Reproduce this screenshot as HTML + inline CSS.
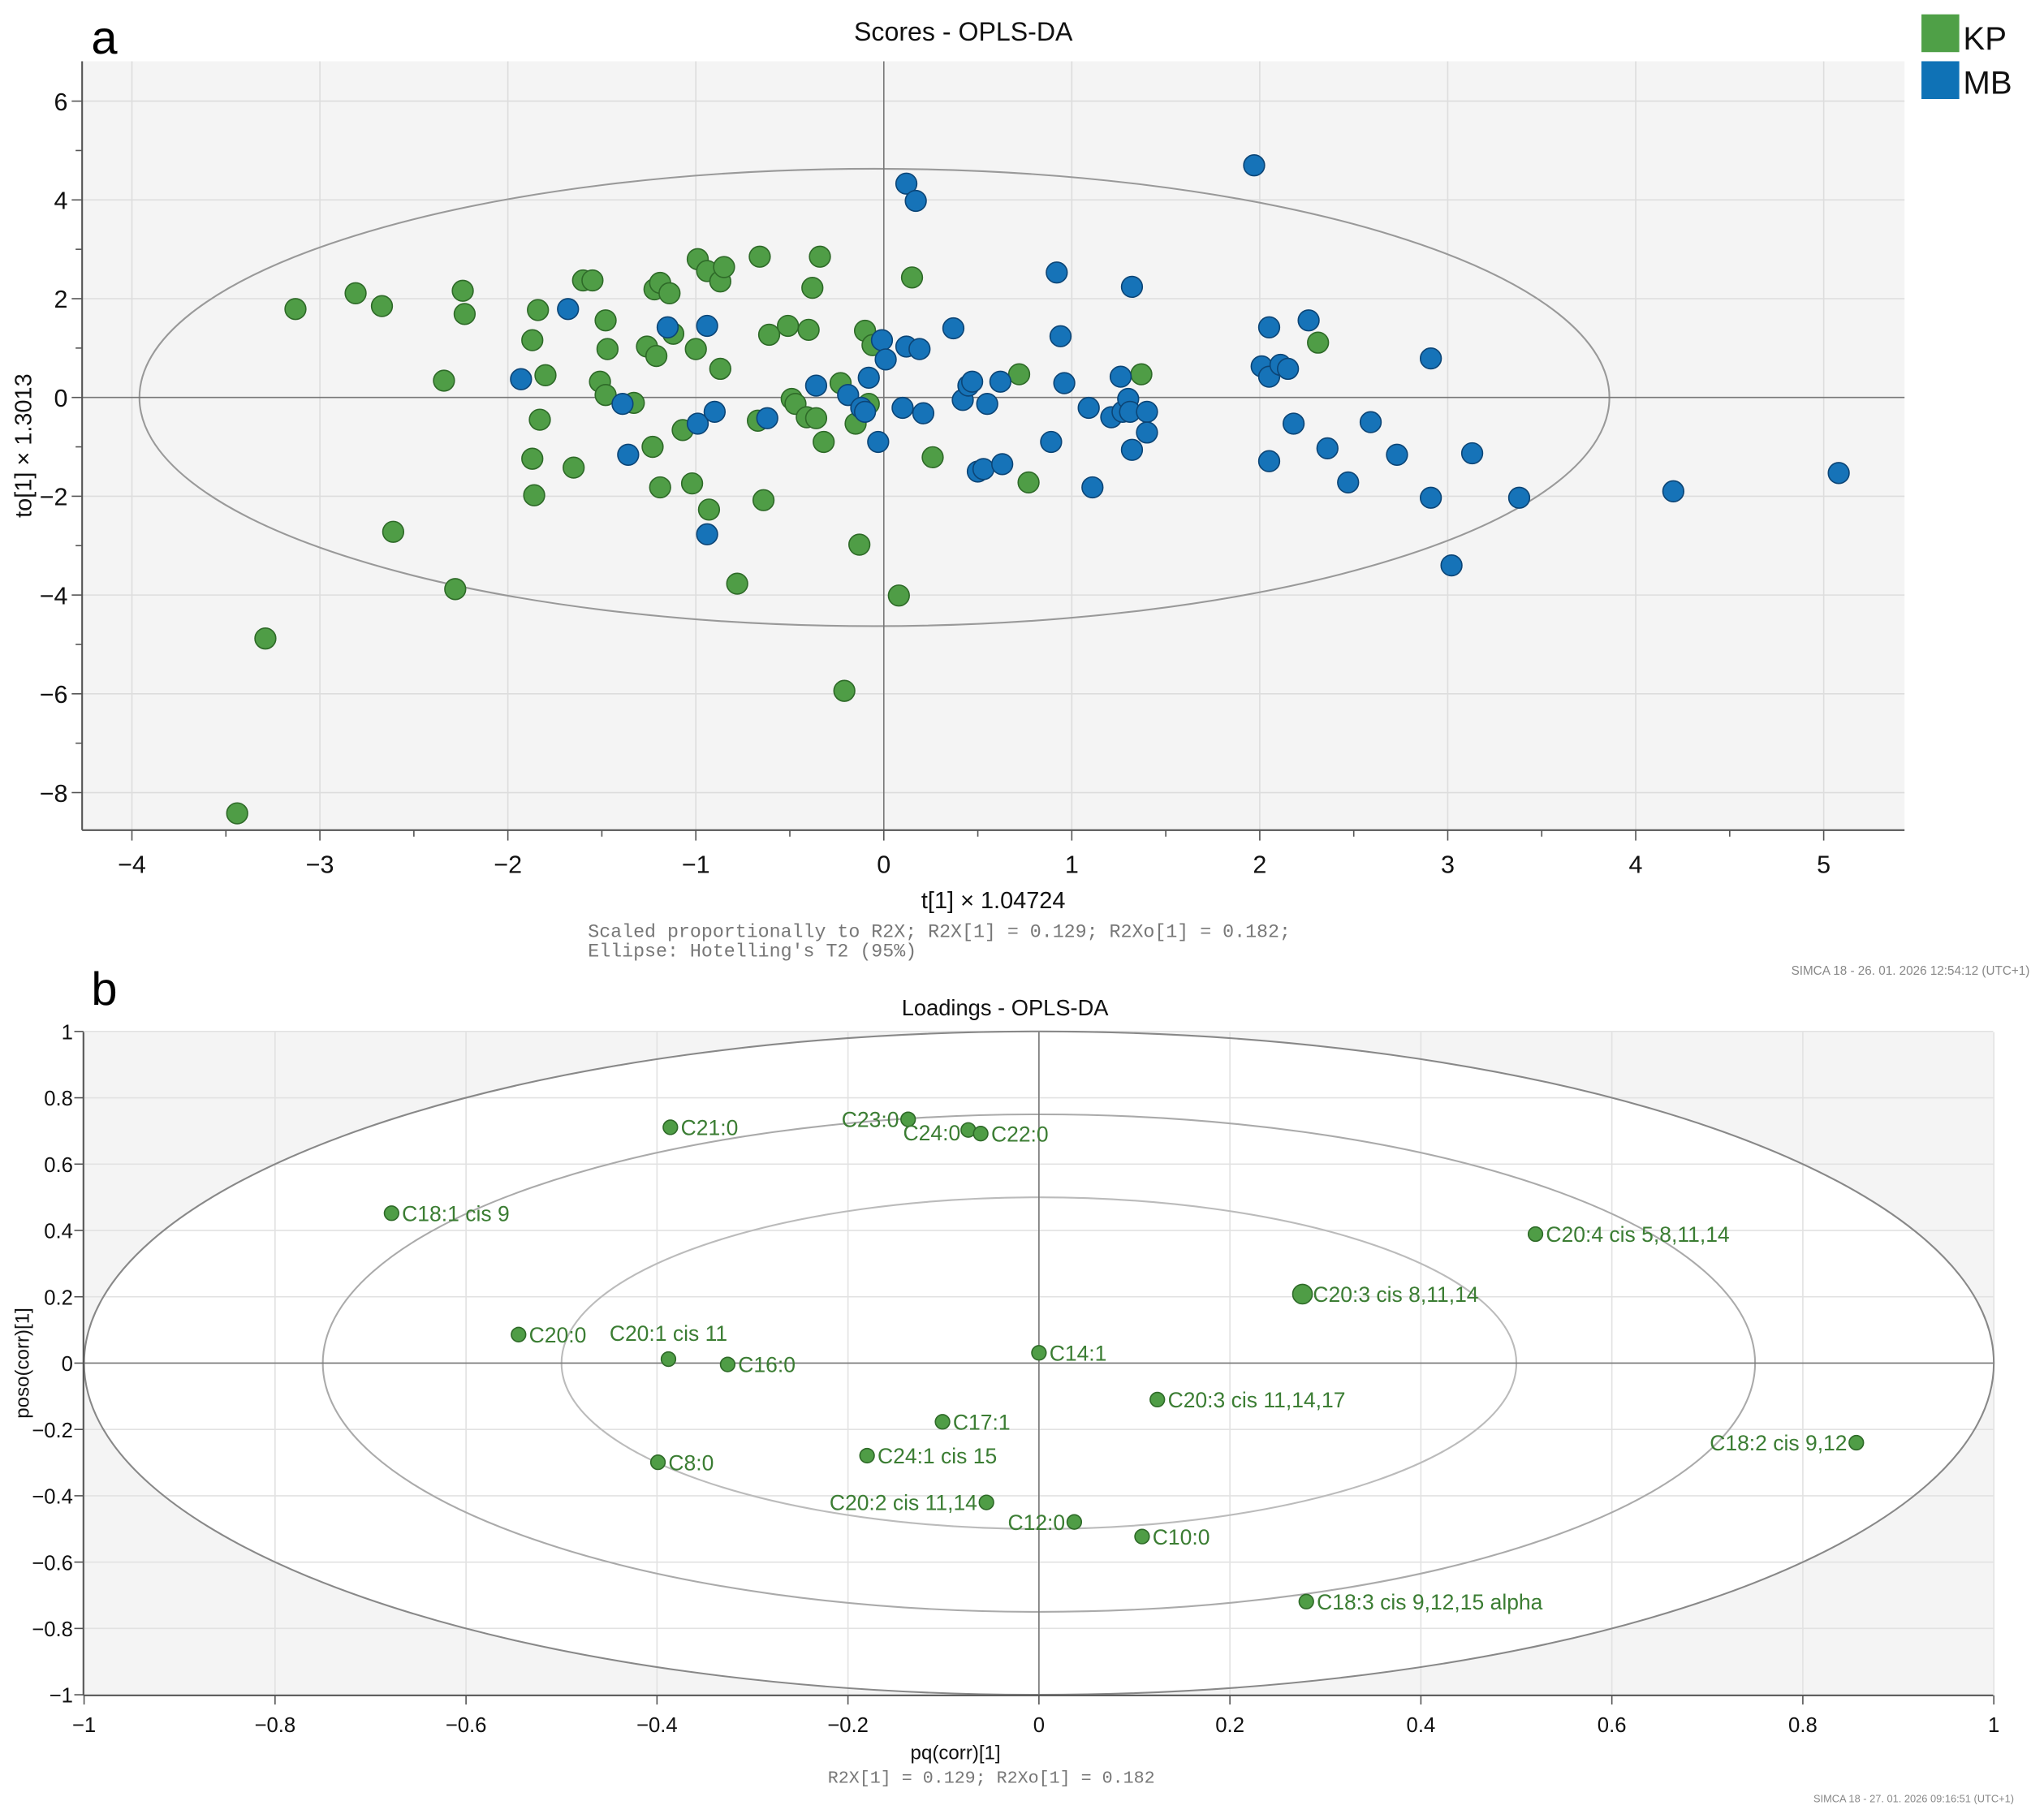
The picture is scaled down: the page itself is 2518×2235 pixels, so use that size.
<!DOCTYPE html>
<html><head><meta charset="utf-8"><style>
html,body{margin:0;padding:0;background:#fff;}
svg{display:block;font-family:"Liberation Sans",sans-serif;}
</style></head><body>
<svg id="fig" width="2518" height="2235" viewBox="0 0 1568 1392" preserveAspectRatio="none" xmlns="http://www.w3.org/2000/svg">
<g id="pa"></g>
<g id="pb"></g>
</svg>
<script>
const kpX=[-3.44,-3.29,-3.13,-2.81,-2.67,-2.61,-2.34,-2.28,-2.24,-2.23,-1.87,-1.87,-1.86,-1.84,-1.83,-1.80,-1.65,-1.60,-1.55,-1.51,-1.48,-1.48,-1.47,-1.33,-1.26,-1.23,-1.22,-1.21,-1.19,-1.19,-1.14,-1.12,-1.07,-1.02,-1.00,-0.99,-0.94,-0.93,-0.87,-0.87,-0.85,-0.78,-0.67,-0.66,-0.64,-0.61,-0.51,-0.49,-0.47,-0.41,-0.40,-0.38,-0.36,-0.34,-0.32,-0.23,-0.21,-0.15,-0.13,-0.10,-0.08,-0.06,0.08,0.15,0.26,0.72,0.77,1.37,2.31];
const kpY=[-8.42,-4.88,1.79,2.11,1.85,-2.72,0.34,-3.88,2.16,1.69,-1.24,1.16,-1.98,1.77,-0.45,0.45,-1.42,2.37,2.37,0.32,0.05,1.56,0.98,-0.11,1.03,-1.00,2.19,0.84,-1.82,2.32,2.11,1.29,-0.66,-1.74,0.98,2.80,2.56,-2.27,2.35,0.58,2.64,-3.77,-0.47,2.85,-2.08,1.27,1.45,-0.03,-0.13,-0.40,1.37,2.22,-0.42,2.85,-0.90,0.29,-5.94,-0.53,-2.98,1.35,-0.13,1.06,-4.01,2.43,-1.21,0.47,-1.72,0.47,1.11];
const mbX=[-1.93,-1.68,-1.39,-1.36,-1.15,-0.99,-0.94,-0.94,-0.90,-0.62,-0.36,-0.19,-0.12,-0.10,-0.08,-0.03,-0.01,0.01,0.10,0.12,0.12,0.17,0.19,0.21,0.37,0.42,0.45,0.47,0.50,0.53,0.55,0.62,0.63,0.89,0.92,0.94,0.96,1.09,1.11,1.26,1.21,1.27,1.30,1.31,1.32,1.32,1.40,1.40,1.97,2.01,2.05,2.05,2.05,2.11,2.15,2.18,2.26,2.36,2.47,2.59,2.73,2.91,2.91,3.02,3.13,3.38,4.20,5.08];
const mbY=[0.37,1.79,-0.13,-1.16,1.42,-0.53,1.45,-2.77,-0.29,-0.42,0.24,0.05,-0.21,-0.29,0.40,-0.90,1.16,0.77,-0.21,4.33,1.03,3.98,0.98,-0.32,1.40,-0.05,0.24,0.32,-1.50,-1.45,-0.13,0.32,-1.35,-0.90,2.53,1.24,0.29,-0.21,-1.82,0.42,-0.40,-0.29,-0.03,-0.29,2.24,-1.06,-0.29,-0.71,4.70,0.63,0.42,1.42,-1.29,0.66,0.58,-0.53,1.56,-1.03,-1.72,-0.50,-1.16,0.79,-2.03,-3.40,-1.13,-2.03,-1.90,-1.53];
const aXTicks=[-4,-3,-2,-1,0,1,2,3,4,5];
const aYTicks=[-8,-6,-4,-2,0,2,4,6];
const ldNames=["C21:0","C23:0","C24:0","C22:0","C18:1 cis 9","C20:4 cis 5,8,11,14","C20:3 cis 8,11,14","C20:0","C20:1 cis 11","C16:0","C14:1","C20:3 cis 11,14,17","C17:1","C24:1 cis 15","C8:0","C18:2 cis 9,12","C20:2 cis 11,14","C12:0","C10:0","C18:3 cis 9,12,15 alpha"];
const ldX=[-0.386,-0.137,-0.074,-0.061,-0.678,0.52,0.276,-0.545,-0.388,-0.326,0,0.124,-0.101,-0.18,-0.399,0.856,-0.055,0.037,0.108,0.28];
const ldY=[0.711,0.735,0.703,0.692,0.452,0.389,0.208,0.086,0.012,-0.004,0.031,-0.11,-0.177,-0.279,-0.299,-0.24,-0.42,-0.479,-0.523,-0.719];
const bTicks=[-1,-0.8,-0.6,-0.4,-0.2,0,0.2,0.4,0.6,0.8,1];

const NS="http://www.w3.org/2000/svg";
function mk(p,t,a,txt){const e=document.createElementNS(NS,t);for(const k in a)e.setAttribute(k,a[k]);if(txt!==undefined)e.textContent=txt;p.appendChild(e);return e;}
function fmt(v){const s=(Math.round(v*10)/10).toString();return s.replace('-','\u2212');}

// Panel A
const pa=document.getElementById('pa');
const ax=v=>678+v*144.2, ay=v=>305-v*37.9;
let r=mk(pa,'rect',{x:63,y:47,width:1398,height:590,fill:'#f4f4f4'});

for(let v=-4;v<=5;v++){let l=mk(pa,'line',{x1:ax(v),x2:ax(v),y1:47,y2:637,stroke:'#dddddd','stroke-width':1});}
for(let v=-8;v<=6;v+=2){let l=mk(pa,'line',{x1:63,x2:1461,y1:ay(v),y2:ay(v),stroke:'#dddddd','stroke-width':1});}
let e=mk(pa,'ellipse',{cx:ax(-0.05),cy:ay(0),rx:3.91*144.2,ry:4.63*37.9,fill:'none',stroke:'#999','stroke-width':1.3});

mk(pa,'line',{x1:ax(0),x2:ax(0),y1:47,y2:637,stroke:'#777','stroke-width':1});
mk(pa,'line',{x1:63,x2:1461,y1:ay(0),y2:ay(0),stroke:'#777','stroke-width':1});
mk(pa,'line',{x1:63,x2:1461,y1:637,y2:637,stroke:'#555','stroke-width':1.3});
mk(pa,'line',{x1:63,x2:63,y1:47,y2:637,stroke:'#555','stroke-width':1.3});
aXTicks.forEach(v=>{mk(pa,'line',{x1:ax(v),x2:ax(v),y1:637,y2:645,stroke:'#555'});
 let t=mk(pa,'text',{x:ax(v),y:670,'text-anchor':'middle','font-size':19,fill:'#111'},fmt(v));});
for(let v=-3.5;v<=5;v+=1)mk(pa,'line',{x1:ax(v),x2:ax(v),y1:637,y2:642,stroke:'#555'});
aYTicks.forEach(v=>{mk(pa,'line',{x1:55,x2:63,y1:ay(v),y2:ay(v),stroke:'#555'});
 let t=mk(pa,'text',{x:52,y:ay(v)+7,'text-anchor':'end','font-size':19,fill:'#111'},fmt(v));});
for(let v=-7;v<=5;v+=2)mk(pa,'line',{x1:58,x2:63,y1:ay(v),y2:ay(v),stroke:'#555'});
kpX.forEach((x,i)=>{let c=mk(pa,'circle',{cx:ax(x),cy:ay(kpY[i]),r:8,fill:'#4f9d46',stroke:'#2e6a28','stroke-width':1});
});
mbX.forEach((x,i)=>{let c=mk(pa,'circle',{cx:ax(x),cy:ay(mbY[i]),r:8,fill:'#1673b8',stroke:'#0c4576','stroke-width':1});
});
let t;
t=mk(pa,'text',{x:70,y:41,'font-size':36,fill:'#000'},'a');
t=mk(pa,'text',{x:739,y:31,'text-anchor':'middle','font-size':20,fill:'#111'},'Scores - OPLS-DA');
t=mk(pa,'text',{x:762,y:697,'text-anchor':'middle','font-size':18,fill:'#111'},'t[1] × 1.04724');
t=mk(pa,'text',{x:0,y:0,'text-anchor':'middle','font-size':18,fill:'#111',transform:'translate(24,342) rotate(-90)'},'to[1] × 1.3013');
t=mk(pa,'text',{x:451,y:719,'font-size':14.5,fill:'#777','font-family':'Liberation Mono, monospace'},'Scaled proportionally to R2X; R2X[1] = 0.129; R2Xo[1] = 0.182;');
t=mk(pa,'text',{x:451,y:734,'font-size':14.5,fill:'#777','font-family':'Liberation Mono, monospace'},"Ellipse: Hotelling's T2 (95%)");
t=mk(pa,'text',{x:1557,y:748,'text-anchor':'end','font-size':9.5,fill:'#888'},'SIMCA 18 - 26. 01. 2026 12:54:12 (UTC+1)');
let lg=mk(pa,'g',{});
r=mk(lg,'rect',{x:1474,y:11,width:29,height:29,fill:'#4fa047'});
t=mk(lg,'text',{x:1506,y:38,'font-size':25,fill:'#111'},'KP');
r=mk(lg,'rect',{x:1474,y:47,width:29,height:29,fill:'#0f72b6'});
t=mk(lg,'text',{x:1506,y:72,'font-size':25,fill:'#111'},'MB');

// Panel B
const pb=document.getElementById('pb');
const bx=v=>797+v*732.5, by=v=>1046-v*254.5;
r=mk(pb,'rect',{x:64,y:792,width:1465,height:509,fill:'#f4f4f4'});
mk(pb,'ellipse',{cx:bx(0),cy:by(0),rx:732.5,ry:254.5,fill:'#fff'});
bTicks.forEach(v=>{mk(pb,'line',{x1:bx(v),x2:bx(v),y1:792,y2:1301,stroke:'#e2e2e2'});mk(pb,'line',{x1:64,x2:1529,y1:by(v),y2:by(v),stroke:'#e2e2e2'});});
[[1,'#888'],[0.75,'#aaa'],[0.5,'#bbb']].forEach(([k,c])=>{let el=mk(pb,'ellipse',{cx:bx(0),cy:by(0),rx:732.5*k,ry:254.5*k,fill:'none',stroke:c,'stroke-width':1.3});});
mk(pb,'line',{x1:bx(0),x2:bx(0),y1:792,y2:1301,stroke:'#777'});
mk(pb,'line',{x1:64,x2:1529,y1:by(0),y2:by(0),stroke:'#777'});
mk(pb,'line',{x1:64,x2:1529,y1:1301,y2:1301,stroke:'#555','stroke-width':1.3});
mk(pb,'line',{x1:64,x2:64,y1:792,y2:1301,stroke:'#555','stroke-width':1.3});
bTicks.forEach(v=>{mk(pb,'line',{x1:bx(v),x2:bx(v),y1:1301,y2:1308,stroke:'#555'});
 t=mk(pb,'text',{x:bx(v),y:1329,'text-anchor':'middle','font-size':16,fill:'#111'},fmt(v));
 mk(pb,'line',{x1:57,x2:64,y1:by(v),y2:by(v),stroke:'#555'});
 t=mk(pb,'text',{x:56,y:by(v)+6,'text-anchor':'end','font-size':16,fill:'#111'},fmt(v));});
const leftLab=new Set(["C23:0","C24:0","C18:2 cis 9,12","C20:2 cis 11,14","C12:0"]);
ldX.forEach((x,i)=>{const big=ldNames[i]==="C20:3 cis 8,11,14";
 let c=mk(pb,'circle',{cx:bx(x),cy:by(ldY[i]),r:big?7.5:5.5,fill:'#4f9d46',stroke:'#2e6a28','stroke-width':1});
 
 const L=leftLab.has(ldNames[i]);let dy=6,dx=L?-7:8,anc=L?'end':'start';
 if(ldNames[i]==="C20:1 cis 11"){dy=-14;dx=0;anc='middle';}
 if(ldNames[i]==="C24:0"){dy=8;dx=-6;}
 let lb=mk(pb,'text',{x:bx(x)+dx,y:by(ldY[i])+dy,'text-anchor':anc,'font-size':16.5,fill:'#3b7d33'},ldNames[i]);
 });
t=mk(pb,'text',{x:70,y:771,'font-size':36,fill:'#000'},'b');
t=mk(pb,'text',{x:771,y:779,'text-anchor':'middle','font-size':17,fill:'#111'},'Loadings - OPLS-DA');
t=mk(pb,'text',{x:733,y:1350,'text-anchor':'middle','font-size':15,fill:'#111'},'pq(corr)[1]');
t=mk(pb,'text',{x:0,y:0,'text-anchor':'middle','font-size':15,fill:'#111',transform:'translate(22,1046) rotate(-90)'},'poso(corr)[1]');
t=mk(pb,'text',{x:635,y:1368,'font-size':13.5,fill:'#777','font-family':'Liberation Mono, monospace'},'R2X[1] = 0.129; R2Xo[1] = 0.182');
t=mk(pb,'text',{x:1545,y:1383,'text-anchor':'end','font-size':8,fill:'#888'},'SIMCA 18 - 27. 01. 2026 09:16:51 (UTC+1)');
</script>
</body></html>
